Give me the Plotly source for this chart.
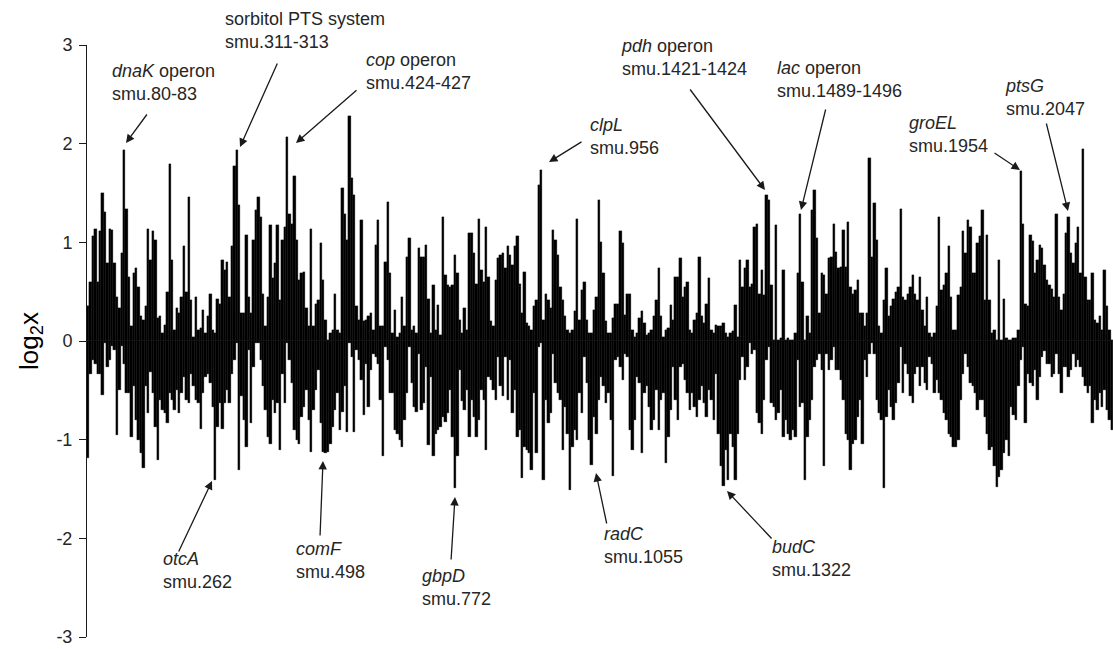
import plotly.graph_objects as go

# ---------------- data ----------------
GENES_PER_BIN = 5  # each bar summarises 5 consecutive genes (max up / min down)

log2_max = [
    # smu.0 - smu.270
    0.35, 0.60, 1.06, 1.14, 0.60, 1.11, 1.50, 1.31, 0.79, 1.14,
    1.12, 0.79, 0.45, 0.33, 0.89, 1.94, 1.34, 0.65, 0.15, 0.69,
    0.74, 0.55, 0.25, 0.21, 0.35, 1.14, 0.82, 1.11, 1.02, 0.23,
    0.25, 0.08, 0.16, 0.50, 1.79, 0.82, 0.11, 0.33, 0.28, 0.45,
    0.96, 0.50, 1.46, 0.42, 0.04, 0.45, 0.11, 0.13, 0.31, 0.08,
    0.25, 0.48, 0.11, 0.08,
    # smu.270 - smu.530
    0.43, 0.38, 0.82, 0.72, 0.80, 0.45, 0.96, 1.77, 1.94, 1.38,
    0.28, 0.28, 1.07, 0.45, 0.28, 1.02, 1.33, 1.46, 1.26, 0.48,
    0.15, 0.45, 1.18, 0.64, 0.79, 1.18, 0.42, 1.02, 1.16, 2.07,
    1.29, 1.19, 1.67, 1.02, 0.62, 0.69, 0.70, 0.33, 0.15, 1.14,
    0.15, 0.38, 0.42, 0.99, 0.62, 0.21, 0.01, 0.08, 0.11, 0.48,
    0.11, 0.08,
    # smu.530 - smu.800
    1.55, 1.29, 1.02, 2.28, 1.65, 1.48, 0.35, 0.21, 1.23, 0.20,
    0.21, 0.25, 0.28, 0.11, 0.97, 1.23, 0.15, 0.15, 0.80, 1.41,
    0.69, 0.08, 0.31, 0.04, 0.08, 0.45, 0.15, 0.85, 1.04, 0.11,
    0.15, 0.08, 0.94, 0.85, 0.85, 0.97, 0.43, 0.08, 0.57, 0.11,
    0.36, 0.06, 1.26, 0.67, 0.57, 0.55, 0.57, 0.87, 0.69, 0.21,
    0.08, 0.33, 0.11, 1.09,
    # smu.800 - smu.1070
    1.09, 0.89, 0.58, 1.24, 0.72, 0.60, 1.16, 0.65, 0.20, 0.15,
    0.62, 0.84, 0.87, 0.89, 0.74, 0.96, 0.87, 0.77, 0.96, 1.06,
    0.58, 0.28, 0.70, 0.18, 0.15, 0.11, 0.35, 0.42, 1.58, 1.73,
    0.21, 0.48, 0.42, 0.33, 1.12, 1.02, 0.87, 0.55, 0.42, 0.25,
    0.11, 0.08, 0.11, 0.30, 1.24, 0.21, 0.52, 0.60, 0.21, 0.08,
    0.08, 0.31, 0.45, 1.43,
    # smu.1070 - smu.1340
    1.00, 0.69, 0.20, 0.08, 0.08, 0.23, 0.38, 0.38, 1.11, 0.99,
    0.26, 0.48, 0.48, 0.11, 0.04, 0.08, 0.23, 0.30, 0.18, 0.06,
    0.08, 0.11, 0.25, 0.42, 0.74, 0.25, 0.04, 0.11, 0.13, 0.36,
    0.21, 0.65, 0.65, 0.84, 0.45, 0.55, 0.60, 0.11, 0.08, 0.21,
    0.28, 0.85, 0.25, 0.18, 0.38, 0.64, 0.11, 0.08, 0.16, 0.15,
    0.15, 0.18, 0.08, 0.04,
    # smu.1340 - smu.1610
    0.08, 0.10, 0.36, 0.04, 0.82, 0.55, 0.74, 0.82, 0.55, 0.58,
    1.16, 1.19, 0.48, 0.72, 0.47, 1.48, 1.43, 0.57, 0.01, 1.18,
    0.01, 0.03, 0.72, 0.01, 0.03, 0.01, 0.01, 0.08, 0.69, 1.29,
    0.60, 0.01, 0.25, 0.08, 1.33, 1.53, 1.04, 0.28, 0.69, 0.67,
    0.48, 0.84, 0.85, 1.19, 0.90, 0.74, 0.75, 1.12, 0.75, 1.21,
    0.55, 0.48, 0.52, 0.62,
    # smu.1610 - smu.1880
    0.28, 0.28, 0.15, 0.28, 1.85, 0.85, 1.40, 1.02, 0.15, 0.08,
    0.42, 0.74, 0.25, 0.35, 0.43, 0.50, 0.55, 1.34, 0.45, 0.42,
    0.48, 0.55, 0.67, 0.48, 0.42, 0.65, 0.31, 0.15, 0.45, 0.08,
    0.04, 0.08, 0.35, 1.26, 0.52, 0.57, 0.69, 0.96, 0.45, 0.11,
    0.11, 0.47, 0.55, 1.11, 0.89, 1.23, 1.16, 0.69, 0.69, 0.99,
    1.06, 1.33, 0.42, 1.07,
    # smu.1880 - smu.2140
    0.42, 0.08, 0.11, 0.01, 0.82, 0.01, 0.43, 0.03, 0.01, 0.01,
    0.03, 0.03, 0.11, 1.72, 1.19, 0.38, 0.35, 1.07, 1.01, 0.69,
    0.82, 0.97, 0.94, 0.77, 0.62, 0.57, 0.53, 0.45, 1.29, 0.45,
    0.31, 0.48, 1.09, 1.26, 0.89, 0.79, 0.99, 1.16, 0.69, 1.95,
    0.65, 0.42, 0.42, 0.69, 0.21, 0.18, 0.25, 0.11, 0.72, 0.35,
    0.11, 0.01,
]

log2_min = [
    # smu.0 - smu.270
    -1.19, -0.33, -0.19, -0.23, -0.33, -0.33, -0.55, -0.02, -0.26, -0.19,
    -0.05, -0.09, -0.95, -0.50, -0.05, -0.23, -0.53, -0.53, -0.97, -0.46,
    -0.80, -1.00, -1.14, -1.29, -0.46, -0.73, -0.31, -0.53, -0.87, -1.21,
    -0.60, -0.70, -0.73, -0.83, -0.53, -0.60, -0.70, -0.50, -0.73, -0.53,
    -0.36, -0.60, -0.63, -0.33, -0.46, -0.60, -0.63, -0.89, -0.53, -0.36,
    -0.33, -0.43, -0.67, -1.41,
    # smu.270 - smu.530
    -0.87, -0.63, -0.89, -0.63, -0.50, -0.63, -0.33, -0.19, -0.02, -1.31,
    -0.56, -0.80, -1.07, -0.09, -0.83, -0.26, -0.02, -0.02, -0.19, -0.46,
    -0.70, -0.97, -1.04, -0.60, -0.73, -0.63, -1.10, -0.33, -0.63, -0.02,
    -0.19, -0.43, -0.90, -1.00, -1.04, -0.77, -0.67, -0.50, -0.80, -1.12,
    -0.70, -0.50, -0.29, -0.83, -1.12, -1.14, -1.12, -1.04, -0.87, -0.70,
    -0.53, -0.90,
    # smu.530 - smu.800
    -0.72, -0.46, -0.92, -0.02, -0.16, -0.92, -0.09, -0.19, -0.40, -0.75,
    -0.23, -0.67, -0.29, -0.13, -0.16, -0.23, -0.60, -1.17, -0.06, -0.19,
    -0.53, -0.53, -0.90, -0.94, -1.00, -1.07, -0.80, -0.53, -0.06, -0.43,
    -0.67, -0.72, -0.13, -0.70, -0.63, -0.26, -1.05, -0.36, -1.17, -0.94,
    -0.90, -0.87, -0.77, -0.82, -0.73, -0.50, -0.97, -1.49, -1.17, -0.29,
    -0.61, -0.70, -0.50, -0.97,
    # smu.800 - smu.1070
    -0.60, -0.77, -0.97, -0.80, -0.50, -0.60, -1.10, -0.36, -0.40, -0.50,
    -0.60, -0.16, -0.46, -0.56, -0.16, -0.60, -0.19, -0.73, -0.50, -0.97,
    -0.90, -1.39, -1.07, -1.10, -1.14, -1.31, -0.53, -1.14, -0.06, -0.02,
    -1.41, -0.60, -0.83, -0.73, -0.13, -0.43, -0.53, -0.60, -1.10, -0.67,
    -0.94, -1.51, -1.07, -0.90, -1.00, -0.53, -0.73, -0.16, -0.43, -1.00,
    -1.26, -0.77, -0.94, -0.60,
    # smu.1070 - smu.1340
    -0.36, -0.46, -0.63, -0.53, -0.80, -1.37, -0.19, -0.16, -0.26, -0.40,
    -0.13, -0.16, -0.90, -1.10, -0.80, -0.36, -0.43, -1.14, -0.53, -0.46,
    -0.67, -0.90, -0.80, -0.50, -0.90, -0.60, -0.53, -1.24, -0.97, -0.70,
    -0.26, -0.60, -0.80, -0.26, -0.23, -0.40, -0.53, -0.70, -0.53, -0.67,
    -0.77, -0.60, -0.46, -0.63, -0.77, -0.50, -0.60, -0.80, -0.33, -0.94,
    -1.27, -1.47, -1.10, -1.41,
    # smu.1340 - smu.1610
    -0.94, -1.07, -1.41, -0.94, -0.40, -0.16, -0.40, -0.26, -0.02, -0.13,
    -0.09, -0.73, -0.83, -0.94, -0.60, -0.19, -0.06, -0.63, -0.67, -0.80,
    -0.73, -0.50, -0.97, -0.80, -0.94, -1.00, -0.90, -0.97, -0.19, -0.67,
    -0.63, -1.41, -0.97, -0.80, -0.60, -0.26, -0.19, -0.13, -0.29, -1.27,
    -0.13, -0.29, -0.19, -0.06, -0.29, -0.29, -0.40, -0.60, -0.94, -1.00,
    -1.31, -1.04, -1.00, -0.77,
    # smu.1610 - smu.1880
    -0.60, -1.04, -0.19, -0.36, -0.13, -0.02, -0.13, -0.60, -0.73, -0.80,
    -1.49, -0.77, -0.50, -0.67, -0.80, -0.63, -0.43, -0.06, -0.53, -0.23,
    -0.33, -0.56, -0.63, -0.33, -0.26, -0.46, -0.26, -0.43, -0.50, -0.16,
    -0.23, -0.53, -0.40, -0.53, -0.60, -0.73, -0.80, -0.94, -0.97, -1.07,
    -1.07, -1.00, -0.60, -0.33, -0.13, -0.26, -0.43, -0.46, -0.53, -0.70,
    -0.60, -0.60, -0.77, -0.94,
    # smu.1880 - smu.2140
    -1.10, -1.07, -1.27, -1.48, -1.38, -1.31, -1.14, -1.00, -1.17, -0.67,
    -0.75, -0.80, -0.46, -0.19, -0.06, -0.83, -0.33, -0.43, -0.46, -0.29,
    -0.60, -0.36, -0.16, -0.10, -0.23, -0.23, -0.36, -0.33, -0.13, -0.33,
    -0.53, -0.26, -0.26, -0.36, -0.29, -0.13, -0.26, -0.19, -0.26, -0.36,
    -0.46, -0.53, -0.46, -0.83, -0.60, -0.70, -0.53, -0.67, -0.50, -0.70,
    -0.80, -0.90,
]

y_ticks = [-3, -2, -1, 0, 1, 2, 3]

# gene labels: (italic name, plain rest, locus)
labels = [
    ("dnaK", " operon", "smu.80-83"),
    ("", "sorbitol PTS system", "smu.311-313"),
    ("cop", " operon", "smu.424-427"),
    ("clpL", "", "smu.956"),
    ("pdh", " operon", "smu.1421-1424"),
    ("lac", " operon", "smu.1489-1496"),
    ("groEL", "", "smu.1954"),
    ("ptsG", "", "smu.2047"),
    ("otcA", "", "smu.262"),
    ("comF", "", "smu.498"),
    ("gbpD", "", "smu.772"),
    ("radC", "", "smu.1055"),
    ("budC", "", "smu.1322"),
]

# ---------------- layout helpers (pixel placement of callouts) ----------------
W, H = 1113, 649
PL, PR, PT, PB = 87, 1113, 45, 637


def px_x(px):
    return (px - PL) / (PR - PL)


def px_y(py):
    return (PB - py) / (PB - PT)


# text block left edge / vertical centre, arrow tail and tip (pixels)
label_pos = [
    (110, 83), (223, 31), (364, 71), (588, 136), (619, 58), (775, 79),
    (907, 134), (1003, 97), (161, 570), (294, 560), (420, 587), (602, 545),
    (770, 558),
]
arrow_pos = [
    ((148, 113), (126, 143)),
    ((278, 62), (240, 147)),
    ((358, 89), (296, 143)),
    ((583, 141), (549, 162)),
    ((689, 88), (765, 190)),
    ((826, 108), (801, 210)),
    ((993, 152), (1020, 170)),
    ((1046, 122), (1068, 211)),
    ((178, 553), (212, 481)),
    ((320, 537), (323, 461)),
    ((451, 561), (455, 497)),
    ((607, 525), (596, 473)),
    ((773, 540), (727, 491)),
]

bins = [i * GENES_PER_BIN + GENES_PER_BIN / 2 for i in range(len(log2_max))]
n_genes = len(log2_max) * GENES_PER_BIN

fig = go.Figure()
for vals in (log2_max, log2_min):
    fig.add_trace(go.Bar(
        x=bins, y=vals, width=GENES_PER_BIN,
        marker=dict(color="black", line=dict(color="black", width=0.3)),
        showlegend=False, hoverinfo="skip",
    ))

FONT = "Liberation Sans, Arial, sans-serif"
TXT = "#262626"

annotations = []
for (ital, rest, locus), (lx, ly) in zip(labels, label_pos):
    first = (f"<i>{ital}</i>" if ital else "") + rest
    annotations.append(dict(
        xref="paper", yref="paper", x=px_x(lx), y=px_y(ly),
        xanchor="left", yanchor="middle", align="left",
        text=f"{first}<br>{locus}", showarrow=False,
        font=dict(family=FONT, size=18, color=TXT),
    ))
for (tail, tip) in arrow_pos:
    annotations.append(dict(
        xref="paper", yref="paper", x=px_x(tip[0]), y=px_y(tip[1]),
        ax=tail[0] - tip[0], ay=tail[1] - tip[1],
        text="", showarrow=True, arrowhead=2, arrowsize=1.3,
        arrowwidth=1.3, arrowcolor="#1a1a1a", standoff=0,
    ))

fig.update_layout(
    width=W, height=H,
    margin=dict(l=PL, r=W - PR, t=PT, b=H - PB, pad=0, autoexpand=False),
    paper_bgcolor="white", plot_bgcolor="white",
    barmode="overlay", bargap=0,
    font=dict(family=FONT, color=TXT),
    annotations=annotations,
    xaxis=dict(visible=False, range=[0, n_genes], automargin=False),
    yaxis=dict(
        range=[-3, 3], tickvals=y_ticks, ticktext=[str(t) for t in y_ticks],
        showgrid=False, zeroline=False, automargin=False,
        showline=True, linecolor="#1a1a1a", linewidth=1,
        ticks="outside", ticklen=7, tickwidth=1, tickcolor="#1a1a1a",
        tickfont=dict(family=FONT, size=18, color=TXT),
        ticklabelstandoff=3,
        title=dict(text="log<sub>2</sub>x", standoff=10,
                   font=dict(family=FONT, size=26, color="black")),
    ),
)

fig.write_html(
    "out.html",
    config={"displayModeBar": False},
    post_script="document.body.style.margin='0px';document.body.style.padding='0px';",
)
